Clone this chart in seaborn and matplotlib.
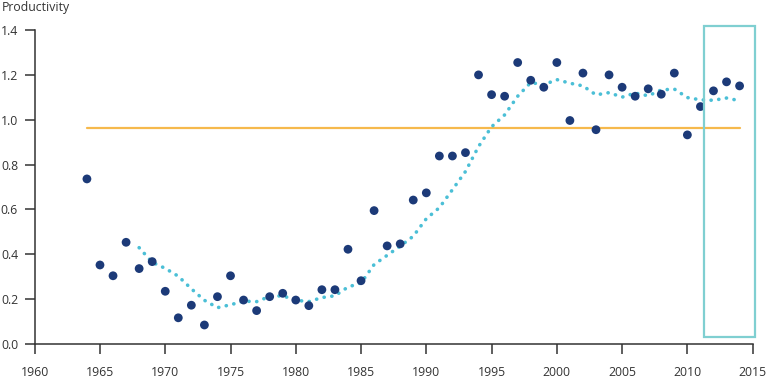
import pandas as pd
import seaborn as sns
import matplotlib.pyplot as plt
from matplotlib.patches import Rectangle

# yearly productivity values
years = list(range(1964, 2015))
productivity = [
    0.736, 0.353, 0.305, 0.454, 0.337, 0.368, 0.236, 0.118, 0.174, 0.086,
    0.212, 0.305, 0.197, 0.150, 0.212, 0.227, 0.197, 0.172, 0.243, 0.243,
    0.423, 0.283, 0.595, 0.438, 0.447, 0.642, 0.674, 0.838, 0.838, 0.853,
    1.199, 1.111, 1.104, 1.254, 1.175, 1.144, 1.254, 0.996, 1.207, 0.955,
    1.199, 1.144, 1.104, 1.137, 1.113, 1.207, 0.932, 1.058, 1.128, 1.168,
    1.150,
]

# dotted trend line
trend_years = list(range(1968, 2015))
trend = [
    0.430, 0.365, 0.338, 0.303, 0.247, 0.196, 0.163, 0.176, 0.192, 0.190,
    0.213, 0.216, 0.196, 0.190, 0.208, 0.216, 0.255, 0.273, 0.355, 0.396,
    0.437, 0.481, 0.559, 0.608, 0.688, 0.769, 0.880, 0.968, 1.021, 1.104,
    1.165, 1.155, 1.178, 1.162, 1.150, 1.110, 1.120, 1.100, 1.118, 1.106,
    1.132, 1.136, 1.098, 1.088, 1.086, 1.096, 1.084,
]

# reference level and highlighted period
mean_level = 0.964
mean_span = [1964, 2014]
highlight_span = [2011.3, 2015.2]
highlight_y = [0.032, 1.418]

x_ticks = list(range(1960, 2016, 5))
y_ticks = [0.0, 0.2, 0.4, 0.6, 0.8, 1.0, 1.2, 1.4]

sns.set_style("ticks")
plt.rcParams['font.family'] = ['Open Sans', 'DejaVu Sans']

fig = plt.figure(figsize=(7.68, 3.81), dpi=100)
ax = fig.add_axes([0.0452, 0.0963, 0.9348, 0.8257])

dots = pd.DataFrame({"year": years, "value": productivity})
trend_df = pd.DataFrame({"year": trend_years, "value": trend})

ax.plot(mean_span, [mean_level, mean_level], color="#f6b94c", lw=1.6, zorder=1)

sns.lineplot(
    data=trend_df, x="year", y="value", ax=ax,
    color="#4bbfd6", lw=2.6, linestyle=(0, (0.05, 2.1)),
    dash_capstyle="round", zorder=2
)

sns.scatterplot(
    data=dots, x="year", y="value", ax=ax,
    color="#1c3a78", s=40, edgecolor="none", zorder=3
)

ax.add_patch(Rectangle(
    (highlight_span[0], highlight_y[0]),
    highlight_span[1] - highlight_span[0],
    highlight_y[1] - highlight_y[0],
    fill=False, edgecolor="#7fcfd1", lw=1.6, clip_on=False, zorder=4
))

ax.set_xlim(1960, 2015)
ax.set_ylim(0, 1.4)
ax.set_xticks(x_ticks)
ax.set_yticks(y_ticks)
ax.set_yticklabels([f"{v:.1f}" for v in y_ticks])
ax.set_xlabel("")
ax.set_ylabel("")

for side in ["top", "right"]:
    ax.spines[side].set_visible(False)
for side in ["left", "bottom"]:
    ax.spines[side].set_color("#333333")
    ax.spines[side].set_linewidth(1.1)

ax.tick_params(axis="both", length=7.5, width=1.1, color="#333333",
               labelcolor="#333333", labelsize=8.8)
ax.tick_params(axis="y", pad=4.5)
ax.tick_params(axis="x", pad=8)

fig.text(0.002, 0.997, "Productivity", ha="left", va="top",
         fontsize=8.8, color="#333333")

plt.savefig("out.png", dpi=100)
plt.close()
